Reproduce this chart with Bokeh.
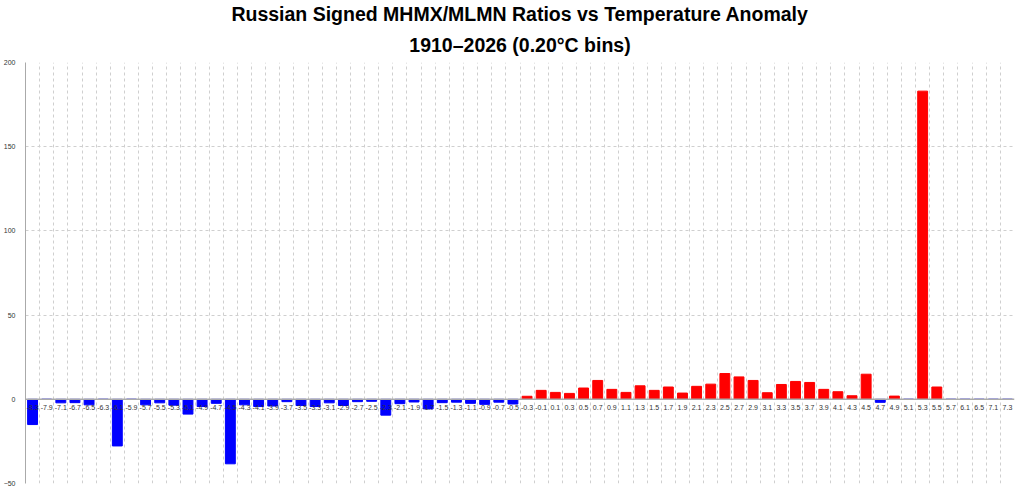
from bokeh.plotting import figure
from bokeh.models import Range1d, FixedTicker, Span, Title, ColumnDataSource
from bokeh.core.properties import value
from bokeh.embed import file_html
from bokeh.resources import INLINE

title_main = "Russian Signed MHMX/MLMN Ratios vs Temperature Anomaly"
title_sub = "1910–2026 (0.20°C bins)"

bins = ["-8.3", "-7.9", "-7.1", "-6.7", "-6.5", "-6.3", "-6.1", "-5.9", "-5.7", "-5.5",
        "-5.3", "-5.1", "-4.9", "-4.7", "-4.5", "-4.3", "-4.1", "-3.9", "-3.7", "-3.5",
        "-3.3", "-3.1", "-2.9", "-2.7", "-2.5", "-2.3", "-2.1", "-1.9", "-1.7", "-1.5",
        "-1.3", "-1.1", "-0.9", "-0.7", "-0.5", "-0.3", "-0.1", "0.1", "0.3", "0.5",
        "0.7", "0.9", "1.1", "1.3", "1.5", "1.7", "1.9", "2.1", "2.3", "2.5",
        "2.7", "2.9", "3.1", "3.3", "3.5", "3.7", "3.9", "4.1", "4.3", "4.5",
        "4.7", "4.9", "5.1", "5.3", "5.5", "5.7", "6.1", "6.5", "7.1", "7.3"]

ratios = [-15.0, 0.0, -2.1, -2.0, -3.3, 0.0, -27.7, 0.0, -3.3, -2.1,
          -3.5, -8.8, -4.3, -2.4, -38.3, -3.3, -4.3, -4.0, -1.4, -3.7,
          -4.3, -2.1, -3.7, -1.4, -1.2, -9.4, -2.6, -1.6, -5.7, -2.0,
          -1.7, -2.4, -3.0, -1.7, -2.8, 1.8, 5.3, 4.1, 3.5, 6.7,
          11.2, 5.9, 4.1, 8.0, 5.3, 7.3, 3.7, 7.7, 9.0, 15.3,
          13.3, 11.2, 3.9, 8.8, 10.6, 10.0, 5.9, 4.5, 2.1, 14.9,
          -1.8, 1.9, 0.0, 183.0, 7.3, 0.0, 0.0, 0.0, 0.0, 0.0]

y_ticks = [-50, 0, 50, 100, 150, 200]

idx = list(range(len(bins)))
colors = ["#ff0000" if v > 0 else "#0000ff" for v in ratios]
src = ColumnDataSource(dict(x=idx, top=ratios, color=colors, label=bins,
                            zero=[0] * len(bins)))

p = figure(width=1016, height=486, output_backend="svg", toolbar_location=None,
           x_range=Range1d(-0.5, len(bins) - 0.5), y_range=Range1d(-50, 200),
           x_axis_location=None,
           title=title_main,
           min_border_left=0, min_border_right=2, min_border_top=61, min_border_bottom=3)

p.title.align = "center"
p.title.text_font = "Liberation Sans"
p.title.text_font_size = "19.5px"
p.title.text_font_style = "bold"
p.title.text_color = "#000000"
p.title.standoff = 0

t2 = Title(text=title_sub, align="center",
           text_font="Liberation Sans", text_font_size="19.5px", text_font_style="bold",
           text_color="#000000", standoff=14)
p.add_layout(t2, "above")

p.vbar(x="x", top="top", bottom=0, width=0.7, fill_color="color", line_color="color",
       source=src)

p.add_layout(Span(location=0, dimension="width", line_color="#aaaaaa", line_width=1.5))

p.text(x="x", y="zero", text="label", source=src, text_align="center",
       text_baseline="middle", y_offset=8, text_font=value("Liberation Sans"),
       text_font_size="7px", text_color="#333333")

p.xgrid.ticker = FixedTicker(ticks=[i + 0.5 for i in idx])
p.xgrid.grid_line_color = "#cfcfcf"
p.xgrid.grid_line_dash = "3 3"
p.ygrid.ticker = FixedTicker(ticks=y_ticks)
p.ygrid.grid_line_color = "#cfcfcf"
p.ygrid.grid_line_dash = "3 3"

p.yaxis.ticker = FixedTicker(ticks=y_ticks)
p.yaxis.axis_line_color = "#aaaaaa"
p.yaxis.major_tick_line_color = None
p.yaxis.minor_tick_line_color = None
p.yaxis.major_label_text_font = "Liberation Sans"
p.yaxis.major_label_text_font_size = "7px"
p.yaxis.major_label_text_color = "#333333"
p.yaxis.major_label_standoff = 4

p.outline_line_color = None
p.background_fill_color = "white"
p.border_fill_color = "white"

open("out.html", "w").write(file_html(p, INLINE))
